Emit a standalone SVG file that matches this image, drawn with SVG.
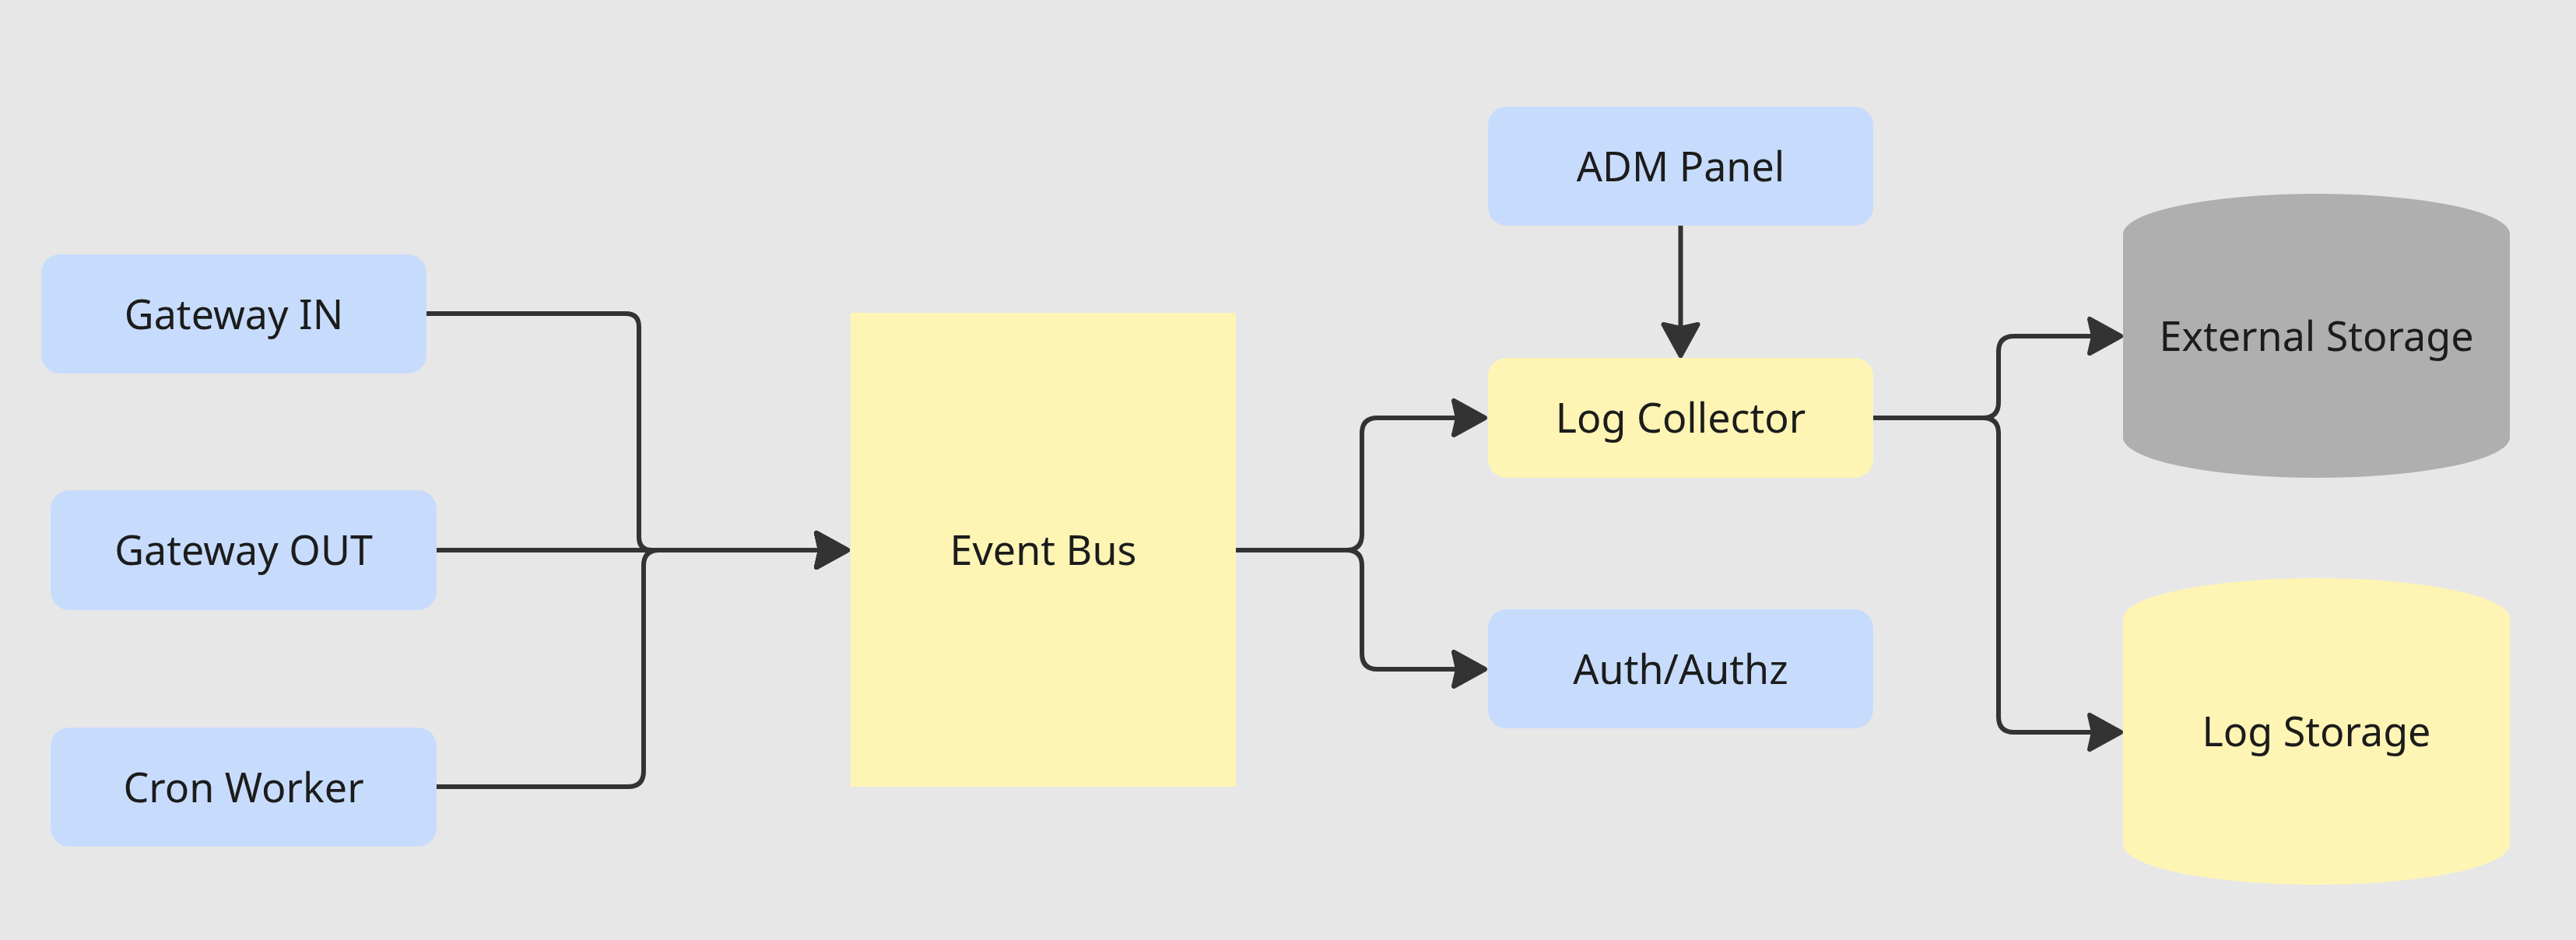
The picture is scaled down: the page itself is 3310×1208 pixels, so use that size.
<svg xmlns="http://www.w3.org/2000/svg" width="3310" height="1208" viewBox="0 0 3310 1208">
<style>
.bg{fill:#e7e7e7}
.blue{fill:#c7dcfc}
.yellow{fill:#fef5b5}
.gray{fill:#afafaf}
.lbl{font-family:"Noto Sans","Open Sans","DejaVu Sans",sans-serif;font-size:52px;fill:#1c1c1c;text-anchor:middle}
.edge{fill:none;stroke:#333333;stroke-width:6;stroke-linejoin:round}
</style>
<defs>
<marker id="arr" markerUnits="userSpaceOnUse" orient="auto" markerWidth="80" markerHeight="80" refX="0" refY="0" viewBox="-20 -40 80 80" overflow="visible">
<path d="M32,0 L-8,-22 L-3,0 L-8,22 Z" fill="#333333" stroke="#333333" stroke-width="6" stroke-linejoin="round"/>
</marker>
</defs>
<rect class="bg" x="0" y="0" width="3310" height="1208"/>
<g id="connectors">
<path class="edge" d="M548,403 H804 Q821,403 821,420 V690 Q821,707 838,707 H1057" marker-end="url(#arr)"/>
<path class="edge" d="M561,707 H1057" marker-end="url(#arr)"/>
<path class="edge" d="M561,1011 H807 Q827,1011 827,991 V727 Q827,707 847,707 H1057" marker-end="url(#arr)"/>
<path class="edge" d="M1588,707 H1730 Q1750,707 1750,687 V557 Q1750,537 1770,537 H1876" marker-end="url(#arr)"/>
<path class="edge" d="M1588,707 H1730 Q1750,707 1750,727 V840 Q1750,860 1770,860 H1876" marker-end="url(#arr)"/>
<path class="edge" d="M2159.5,290 V425" marker-end="url(#arr)"/>
<path class="edge" d="M2407,537 H2548 Q2568,537 2568,517 V452 Q2568,432 2588,432 H2693" marker-end="url(#arr)"/>
<path class="edge" d="M2407,537 H2548 Q2568,537 2568,557 V921 Q2568,941 2588,941 H2693" marker-end="url(#arr)"/>
</g>
<g id="gateway_in">
<rect class="blue" x="53" y="327" width="495" height="153" rx="24"/>
<text class="lbl" x="300.5" y="422.5">Gateway IN</text>
</g>
<g id="gateway_out">
<rect class="blue" x="65" y="630" width="496" height="154" rx="24"/>
<text class="lbl" x="313" y="726">Gateway OUT</text>
</g>
<g id="cron_worker">
<rect class="blue" x="65" y="935" width="496" height="153" rx="24"/>
<text class="lbl" x="313" y="1030.5">Cron Worker</text>
</g>
<g id="event_bus">
<rect class="yellow" x="1093" y="402" width="495" height="609"/>
<text class="lbl" x="1340.5" y="725.5">Event Bus</text>
</g>
<g id="adm_panel">
<rect class="blue" x="1912" y="137" width="495" height="153" rx="24"/>
<text class="lbl" x="2159.5" y="232.5">ADM Panel</text>
</g>
<g id="log_collector">
<rect class="yellow" x="1912" y="460" width="495" height="154" rx="24"/>
<text class="lbl" x="2159.5" y="556">Log Collector</text>
</g>
<g id="auth">
<rect class="blue" x="1912" y="783" width="495" height="153" rx="24"/>
<text class="lbl" x="2159.5" y="878.5">Auth/Authz</text>
</g>
<g id="external_storage">
<path class="gray" d="M2728,301 A248.5,52 0 0 1 3225,301 V562 A248.5,52 0 0 1 2728,562 Z"/>
<text class="lbl" x="2976.5" y="450.5">External Storage</text>
</g>
<g id="log_storage">
<path class="yellow" d="M2728,795 A248.5,52 0 0 1 3225,795 V1085 A248.5,52 0 0 1 2728,1085 Z"/>
<text class="lbl" x="2976.5" y="959">Log Storage</text>
</g>
</svg>
